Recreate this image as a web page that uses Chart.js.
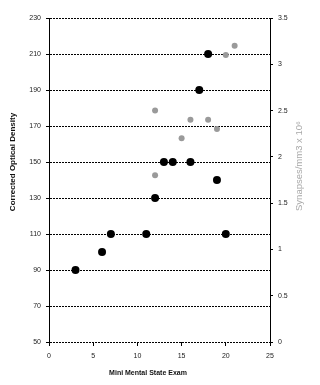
<!DOCTYPE html>
<html>
<head>
<meta charset="utf-8">
<script src="https://cdn.jsdelivr.net/npm/chart.js@4/dist/chart.umd.min.js"></script>
<style>
  html, body { margin: 0; padding: 0; background: #ffffff; }
  canvas { display: block; }
</style>
</head>
<body>
<canvas id="c" width="320" height="385"></canvas>
<script>
// Mini Mental State Exam scores vs Corrected Optical Density (black, left axis)
const mmseOD = [3, 6, 7, 11, 12, 13, 14, 16, 17, 18, 19, 20];
const odValues = [90, 100, 110, 110, 130, 150, 150, 150, 190, 210, 140, 110];
// Mini Mental State Exam scores vs Synapses/mm3 x 10^6 (grey, right axis)
const mmseSyn = [12, 12, 15, 16, 18, 19, 20, 21];
const synValues = [2.5, 1.8, 2.2, 2.4, 2.4, 2.3, 3.1, 3.2];

const xTitle = 'Mini Mental State Exam';
const yTitle = 'Corrected Optical Density';
const y2Title = 'Synapses/mm3 x 10\u2076';

const FONT = '"Liberation Sans", Arial, sans-serif';

const titlePlugin = {
  id: 'titles',
  afterDraw(chart) {
    const ctx = chart.ctx;
    ctx.save();
    ctx.textAlign = 'center';
    ctx.textBaseline = 'middle';
    ctx.fillStyle = '#111';
    ctx.font = 'bold 7px ' + FONT;
    ctx.fillText(xTitle, 148, 373);
    ctx.save();
    ctx.translate(13, 162);
    ctx.rotate(-Math.PI / 2);
    ctx.font = 'bold 8px ' + FONT;
    ctx.fillText(yTitle, 0, 0);
    ctx.restore();
    ctx.save();
    ctx.translate(299, 166);
    ctx.rotate(-Math.PI / 2);
    ctx.fillStyle = '#a8a8a8';
    ctx.font = '9.5px ' + FONT;
    ctx.fillText(y2Title, 0, 0);
    ctx.restore();
    ctx.restore();
  }
};

new Chart(document.getElementById('c'), {
  type: 'scatter',
  data: {
    datasets: [
      {
        label: 'Synapses',
        data: mmseSyn.map((x, i) => ({ x: x, y: synValues[i] })),
        yAxisID: 'y2',
        backgroundColor: '#9a9a9a',
        borderColor: '#9a9a9a',
        pointRadius: 3,
        pointHoverRadius: 3,
        borderWidth: 0
      },
      {
        label: 'Optical Density',
        data: mmseOD.map((x, i) => ({ x: x, y: odValues[i] })),
        yAxisID: 'y',
        backgroundColor: '#000000',
        borderColor: '#000000',
        pointRadius: 4,
        pointHoverRadius: 4,
        borderWidth: 0
      }
    ]
  },
  options: {
    responsive: false,
    devicePixelRatio: 1,
    animation: false,
    layout: { padding: { top: 18, left: 0, right: 0, bottom: 0 } },
    plugins: {
      legend: { display: false },
      tooltip: { enabled: false }
    },
    scales: {
      x: {
        type: 'linear',
        position: 'bottom',
        min: 0,
        max: 25,
        afterFit(s) { s.height = 43; },
        ticks: {
          stepSize: 5,
          color: '#222',
          font: { family: FONT, size: 7 },
          padding: 6,
          maxRotation: 0
        },
        grid: {
          drawOnChartArea: false,
          drawTicks: true,
          tickLength: 4,
          tickColor: '#000',
          color: '#000'
        },
        border: { display: false }
      },
      y: {
        type: 'linear',
        position: 'left',
        min: 50,
        max: 230,
        afterFit(s) { s.width = 49; },
        ticks: {
          stepSize: 20,
          color: '#222',
          font: { family: FONT, size: 7 },
          padding: 5
        },
        grid: {
          color: '#000',
          lineWidth: 1,
          drawTicks: true,
          tickLength: 3,
          tickColor: '#000'
        },
        border: { display: true, color: '#000', width: 1, dash: [2, 1] }
      },
      y2: {
        type: 'linear',
        position: 'right',
        min: 0,
        max: 3.5,
        afterFit(s) { s.width = 50; },
        ticks: {
          stepSize: 0.5,
          color: '#222',
          font: { family: FONT, size: 7 },
          padding: 5,
          callback: (v) => String(Number(v.toFixed(1)))
        },
        grid: {
          drawOnChartArea: false,
          drawTicks: true,
          tickLength: 3,
          tickColor: '#000'
        },
        border: { display: true, color: '#000', width: 1 }
      }
    }
  },
  plugins: [titlePlugin]
});
</script>
</body>
</html>
